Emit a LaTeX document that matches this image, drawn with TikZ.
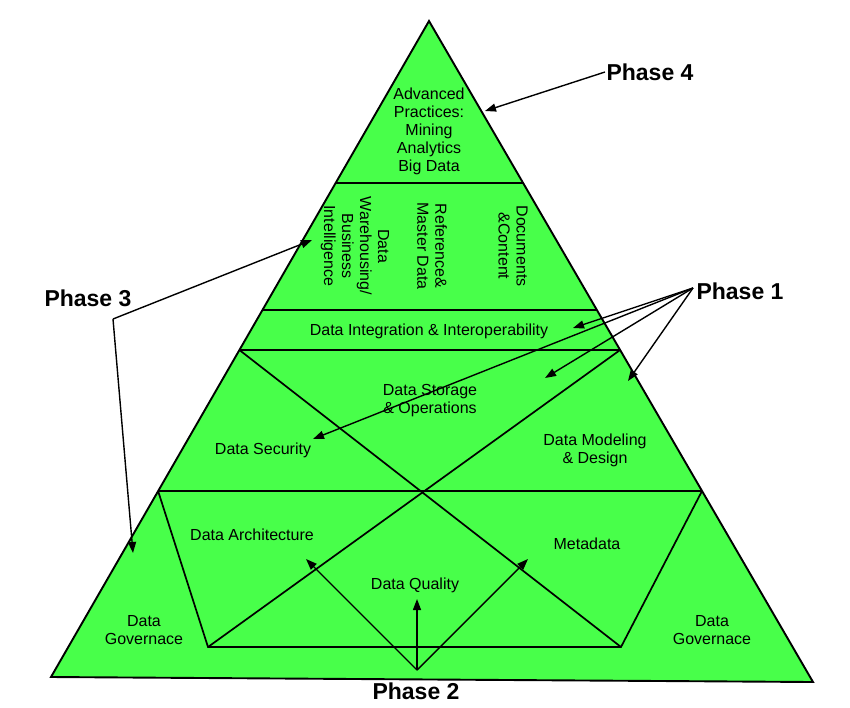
\documentclass[tikz,border=0pt]{standalone}
\usepackage{fontspec}
\setmainfont{Liberation Sans}
\usetikzlibrary{arrows.meta}
\definecolor{pyrgreen}{RGB}{72,255,74}
\begin{document}
\begin{tikzpicture}[x=1pt,y=-1pt,
  edge/.style={line width=1.7pt, line join=miter},
  arr/.style={line width=1.4pt, -{Triangle[length=11pt,width=8pt]}},
  lbl/.style={font=\fontsize{16}{18}\selectfont, align=center, inner sep=0pt},
  phase/.style={font=\fontsize{23}{26}\selectfont\bfseries, inner sep=0pt}]
\useasboundingbox (0,0) rectangle (850,707);
% outer triangle
\coordinate (apex) at (429,21);
\coordinate (bl) at (51,677);
\coordinate (br) at (813,682);
\fill[pyrgreen] (apex) -- (bl) -- (br) -- cycle;
% level lines
\coordinate (l1) at (335.7,183); \coordinate (r1) at (523.1,183);
\coordinate (l2) at (262.5,310); \coordinate (r2) at (596.9,310);
\coordinate (l3) at (239.4,350); \coordinate (r3) at (620.1,350);
\coordinate (l4) at (158.1,491); \coordinate (r4) at (702.0,491);
\coordinate (ib1) at (208,647); \coordinate (ib2) at (621,647);
\draw[edge] (l1) -- (r1);
\draw[edge] (l2) -- (r2);
\draw[edge] (l3) -- (r3);
\draw[edge] (l4) -- (r4);
\draw[edge] (l4) -- (ib1) -- (ib2) -- (r4);
\draw[edge] (l3) -- (ib2);
\draw[edge] (r3) -- (ib1);
\draw[edge, line width=1.9pt] (apex) -- (bl) -- (br) -- cycle;
% labels
\node[lbl] (adv) at (429,131.5) {Advanced\\Practices:\\Mining\\Analytics\\Big Data};
\node[lbl, rotate=-90] (dw) at (355,246) {Data\\Warehousing/\\Business\\Intelligence};
\node[lbl, rotate=-90] (rm) at (432,246) {Reference\&\\Master Data};
\node[lbl, rotate=-90] (dc) at (513,246) {Documents\\\&Content};
\node[lbl] (dii) at (429,331) {Data Integration \& Interoperability};
\node[lbl] (dso) at (430,401) {Data Storage\\\& Operations};
\node[lbl] (dsec) at (263,450) {Data Security};
\node[lbl] (dmd) at (595,450) {Data Modeling\\\& Design};
\node[lbl] (darch) at (252,535) {Data Architecture};
\node[lbl] (meta) at (587,544) {Metadata};
\node[lbl] (dq) at (415,585) {Data Quality};
\node[lbl] (dgl) at (144,630) {Data\\Governace};
\node[lbl] (dgr) at (712,630) {Data\\Governace};
% phase labels
\node[phase] (ph4) at (650,72) {Phase 4};
\node[phase] (ph3) at (88,298) {Phase 3};
\node[phase] (ph1) at (740,291) {Phase 1};
\node[phase] (ph2) at (416,691) {Phase 2};
% arrow origins and tips
\coordinate (o4) at (605,72);
\coordinate (t4) at (485,111);
\coordinate (o3) at (113,319);
\coordinate (t3a) at (312,240);
\coordinate (t3b) at (133,553);
\coordinate (o1) at (693,288);
\coordinate (t1a) at (573,328);
\coordinate (t1b) at (313,439);
\coordinate (t1c) at (545,378);
\coordinate (t1d) at (628,381);
\coordinate (o2) at (417,670);
\coordinate (t2a) at (306,559);
\coordinate (t2b) at (417,599);
\coordinate (t2c) at (528,559);
\draw[arr] (o4) -- (t4);
\draw[arr] (o3) -- (t3a);
\draw[arr] (o3) -- (t3b);
\draw[arr] (o1) -- (t1a);
\draw[arr] (o1) -- (t1b);
\draw[arr] (o1) -- (t1c);
\draw[arr] (o1) -- (t1d);
\draw[arr] (o2) -- (t2a);
\draw[arr] (o2) -- (t2b);
\draw[arr] (o2) -- (t2c);
\end{tikzpicture}
\end{document}
